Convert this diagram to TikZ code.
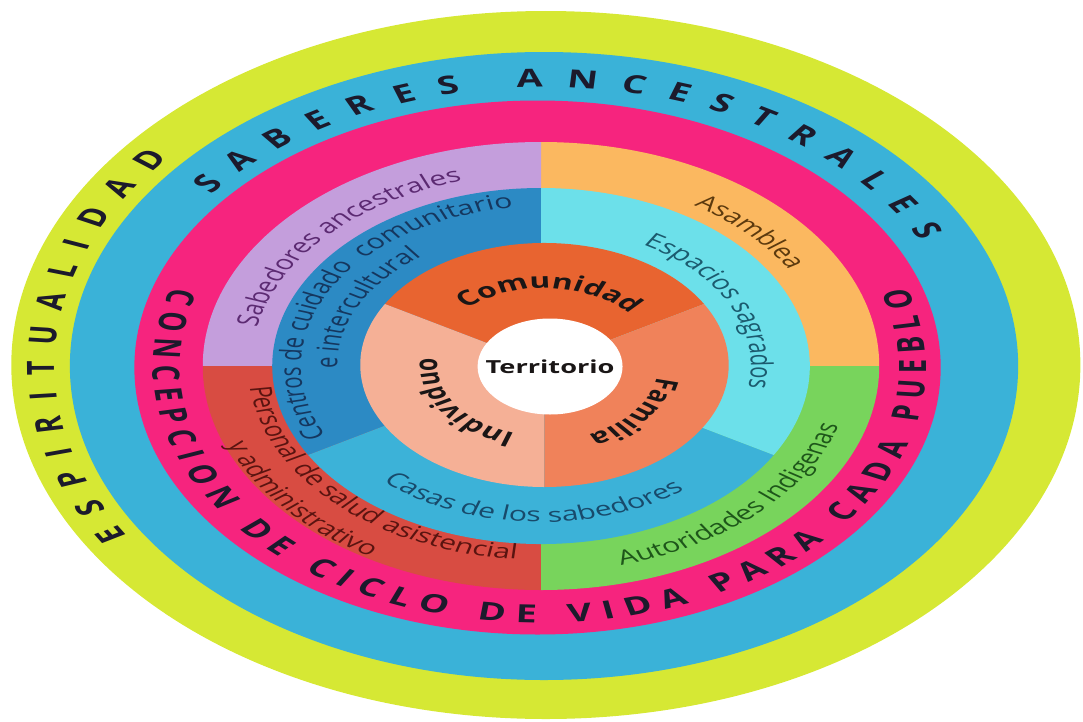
\documentclass[tikz,border=0pt]{standalone}
\usepackage{fontspec}
\setmainfont{Open Sans}
\usepackage{tikz}
\usetikzlibrary{decorations.text}

\definecolor{limering}{RGB}{214,232,52}
\definecolor{skyring}{RGB}{58,178,216}
\definecolor{pinkring}{RGB}{246,36,126}
\definecolor{lilac}{RGB}{196,158,220}
\definecolor{apricot}{RGB}{251,184,96}
\definecolor{leaf}{RGB}{120,212,92}
\definecolor{brick}{RGB}{216,76,66}
\definecolor{steel}{RGB}{44,138,196}
\definecolor{aqua}{RGB}{108,224,234}
\definecolor{casablue}{RGB}{60,178,216}
\definecolor{comuorange}{RGB}{232,100,48}
\definecolor{famorange}{RGB}{240,130,90}
\definecolor{indpeach}{RGB}{245,176,150}
\definecolor{capink}{RGB}{28,26,44}
\definecolor{boldink}{RGB}{26,22,22}
\definecolor{lilacink}{RGB}{92,42,114}
\definecolor{steelink}{RGB}{21,55,95}
\definecolor{apricotink}{RGB}{92,58,14}
\definecolor{aquaink}{RGB}{27,90,110}
\definecolor{leafink}{RGB}{30,86,26}
\definecolor{brickink}{RGB}{90,20,16}
\definecolor{casaink}{RGB}{24,74,107}

\newcommand\ringcaps{\fontsize{25}{30}\selectfont\bfseries\color{capink}}
\newcommand\ringmid{\fontsize{20}{24}\selectfont}
\newcommand\ringbold{\fontsize{21}{25}\selectfont\bfseries\color{boldink}}

\tikzset{
  captext/.style={decorate,decoration={text along path,text align={fit to path},text={|\ringcaps|#1}}},
  midtext/.style 2 args={decorate,decoration={text along path,text align=center,text={|\ringmid\color{#1}|#2}}},
  boldtext/.style={decorate,decoration={text along path,text align=center,text={|\ringbold|#1}}}
}

\begin{document}
\begin{tikzpicture}[x=1pt,y=1pt]
\useasboundingbox (-541,-355) rectangle (542,366);
\begin{scope}[transform canvas={xscale=1.51}]
    % outer rings
    \fill[limering] (3.2,1) circle[radius=354];
    \fill[skyring] (2,0) circle[radius=314];
    \fill[pinkring] (-2.3,-1.5) circle[radius=267];
    % quarters
    \fill[apricot] (0,0) -- (0:224) arc[start angle=0,end angle=90,radius=224] -- cycle;
    \fill[lilac] (0,0) -- (90:224) arc[start angle=90,end angle=180,radius=224] -- cycle;
    \fill[brick] (0,0) -- (180:224) arc[start angle=180,end angle=270,radius=224] -- cycle;
    \fill[leaf] (0,0) -- (270:224) arc[start angle=270,end angle=360,radius=224] -- cycle;
    % thirds
    \fill[steel] (0,0) -- (90:178) arc[start angle=90,end angle=210,radius=178] -- cycle;
    \fill[casablue] (0,0) -- (210:178) arc[start angle=210,end angle=330,radius=178] -- cycle;
    \fill[aqua] (0,0) -- (330:178) arc[start angle=330,end angle=450,radius=178] -- cycle;
    \fill[comuorange] (2.3,1) -- ++(30:122) arc[start angle=30,end angle=150,radius=122] -- cycle;
    \fill[indpeach] (2.3,1) -- ++(150:122) arc[start angle=150,end angle=270,radius=122] -- cycle;
    \fill[famorange] (2.3,1) -- ++(270:122) arc[start angle=270,end angle=390,radius=122] -- cycle;
    \fill[white] (6,-0.5) circle[radius=48];
    \node[font=\fontsize{18}{22}\selectfont\bfseries,text=boldink] (territorio) at (6,-1) {Territorio};

    % words on the outer rings
    \path[captext=ESPIRITUALIDAD] ([shift={(2,0)}]211.7:324) arc[start angle=211.7,end angle=140.1,radius=324];
    \path[captext=SABERES ANCESTRALES] ([shift={(2,0)}]142.2:279) arc[start angle=142.2,end angle=26.8,radius=279];
    \path[captext=CONCEPCION DE CICLO DE VIDA PARA CADA PUEBLO] ([shift={(-1,-1)}]162:256) arc[start angle=162,end angle=378,radius=256];

    % words on the middle rings
    \path[midtext={lilacink}{Sabedores ancestrales}] (182:192) arc[start angle=182,end angle=92,radius=192];
    \path[midtext={apricotink}{Asamblea}] (88:190) arc[start angle=88,end angle=0,radius=190];
    \path[midtext={leafink}{Autoridades Indigenas}] (272:206) arc[start angle=272,end angle=356,radius=206];
    \path[midtext={brickink}{Personal de salud asistencial}] (182:194) arc[start angle=182,end angle=269.4,radius=194];
    \path[midtext={brickink}{y administrativo}] (182:222) arc[start angle=182,end angle=258,radius=222];
    \path[midtext={steelink}{Centros de cuidado{\ } comunitario}] (211.5:159) arc[start angle=211.5,end angle=91.5,radius=159];
    \path[midtext={steelink}{e intercultural}] (203.5:135) arc[start angle=203.5,end angle=103.5,radius=135];
    \path[midtext={aquaink}{Espacios sagrados}] (85:139) arc[start angle=85,end angle=-33,radius=139];
    \path[midtext={casaink}{Casas de los sabedores}] (212:156) arc[start angle=212,end angle=323.4,radius=156];

    % words round the centre
    \path[boldtext=Comunidad] ([shift={(2.3,1)}]142.4:76.5) arc[start angle=142.4,end angle=32.4,radius=76.5];
    \path[boldtext=Familia] ([shift={(2.3,1)}]16.4:75.5) arc[start angle=16.4,end angle=-93.6,radius=75.5];
    \path[boldtext=Individuo] ([shift={(2.3,1)}]269.3:71) arc[start angle=269.3,end angle=159.3,radius=71];
\end{scope}
\end{tikzpicture}
\end{document}
